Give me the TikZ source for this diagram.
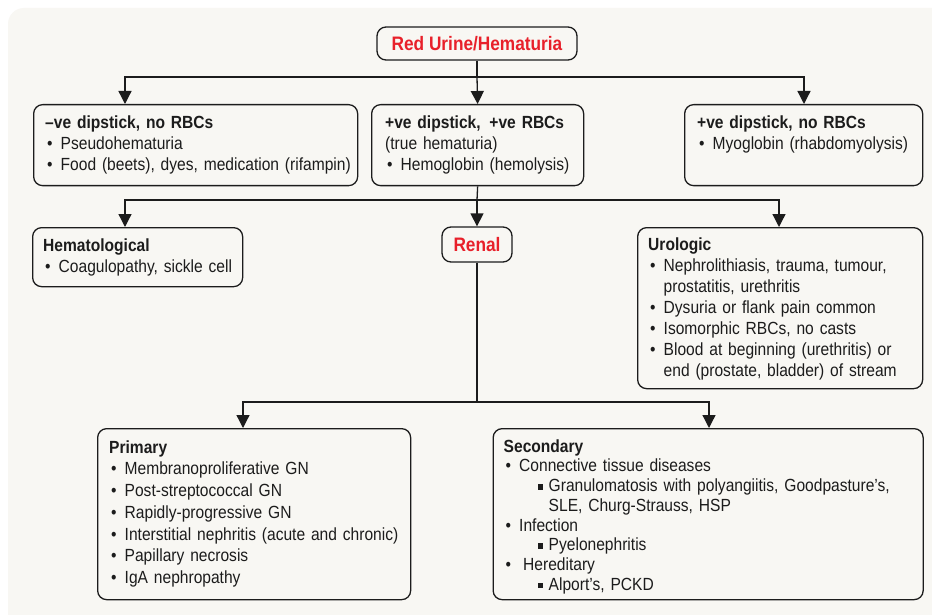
\documentclass[tikz,border=0pt]{standalone}
\usepackage{fontspec}
\setmainfont{Liberation Sans}[FakeStretch=0.885]
\usetikzlibrary{arrows.meta}

\definecolor{panel}{HTML}{F8F7F3}
\definecolor{alert}{HTML}{E8202A}
\definecolor{ink}{HTML}{1C1C1C}

% list helpers: bullet, continuation indent, square sub-bullet
\newcommand{\bul}{\makebox[15.5pt][l]{\hspace*{2pt}•}}
\newcommand{\cont}{\hspace*{15.5pt}}
\newcommand{\sqb}{\hspace*{34pt}\makebox[11pt][l]{\rule[2pt]{5.5pt}{5.5pt}}}
\newcommand{\subcont}{\hspace*{45pt}}
\newcommand{\topstrut}{\rule{0pt}{13pt}}

\begin{document}
\begin{tikzpicture}[x=1pt,y=-1pt,
  card/.style={draw=ink, line width=1.3pt, rounded corners=9pt, fill=panel,
    anchor=north west, inner sep=0pt},
  head/.style={draw=ink, line width=1.3pt, rounded corners=9pt, fill=panel,
    inner sep=0pt, text=alert, font=\bfseries\fontsize{19.5}{23}\selectfont},
  body/.style={anchor=north west, inner sep=0pt, text width=#1, align=left,
    text=ink, font=\fontsize{17.6}{21}\selectfont},
  link/.style={draw=ink, line width=1.3pt},
  arr/.style={link, -{Triangle[width=13pt,length=13pt]}}
]
\useasboundingbox (0,0) rectangle (932,615);
\fill[white] (0,0) rectangle (932,615);
\begin{scope}
  \clip (0,0) rectangle (932,615);
  \fill[panel, rounded corners=16pt] (8,8) rectangle (960,640);
\end{scope}

% ---- top level
\node[head, minimum width=200pt, minimum height=33pt] (title) at (477,43.5) {Red Urine/Hematuria};

\node[card, minimum width=324pt, minimum height=81pt] (b1) at (33,104) {};
\node[body=312pt] (b1t) at ([shift={(12,11)}]b1.north west)
  {\topstrut\textbf{–ve dipstick, no RBCs}\\
   \bul Pseudohematuria\\
   \bul Food (beets), dyes, medication (rifampin)};

\node[card, minimum width=212pt, minimum height=81pt] (b2) at (371,104) {};
\node[body=200pt] (b2t) at ([shift={(14,11)}]b2.north west)
  {\topstrut\textbf{+ve dipstick, \,+ve RBCs}\\
   (true hematuria)\\
   \bul Hemoglobin (hemolysis)};

\node[card, minimum width=238pt, minimum height=81pt] (b3) at (684,104) {};
\node[body=226pt] (b3t) at ([shift={(13,11)}]b3.north west)
  {\topstrut\textbf{+ve dipstick, no RBCs}\\
   \bul Myoglobin (rhabdomyolysis)};

% ---- second level
\node[card, minimum width=210pt, minimum height=59pt] (hem) at (32,227) {};
\node[body=200pt] (hemt) at ([shift={(11,11)}]hem.north west)
  {\topstrut\textbf{Hematological}\\
   \bul Coagulopathy, sickle cell};

\node[head, minimum width=70pt, minimum height=35pt] (renal) at (477,244.5) {Renal};

\node[card, minimum width=285pt, minimum height=161pt] (uro) at (637,227) {};
\node[body=275pt] (urot) at ([shift={(11,10.5)}]uro.north west)
  {\topstrut\textbf{Urologic}\\
   \bul Nephrolithiasis, trauma, tumour,\\
   \cont prostatitis, urethritis\\
   \bul Dysuria or flank pain common\\
   \bul Isomorphic RBCs, no casts\\
   \bul Blood at beginning (urethritis) or\\
   \cont end (prostate, bladder) of stream};

% ---- third level
\node[card, minimum width=313pt, minimum height=171pt] (prim) at (97,428) {};
\node[body=305pt, font=\fontsize{17.6}{21.7}\selectfont] (primt) at ([shift={(12,12)}]prim.north west)
  {\topstrut\textbf{Primary}\\
   \bul Membranoproliferative GN\\
   \bul Post-streptococcal GN\\
   \bul Rapidly-progressive GN\\
   \bul Interstitial nephritis (acute and chronic)\\
   \bul Papillary necrosis\\
   \bul IgA nephropathy};

\node[card, minimum width=430pt, minimum height=171pt] (sec) at (492.5,428) {};
\node[body=420pt, font=\fontsize{17.6}{19.7}\selectfont] (sect) at ([shift={(11,11)}]sec.north west)
  {\topstrut\textbf{Secondary}\\
   \bul Connective tissue diseases\\
   \sqb Granulomatosis with polyangiitis, Goodpasture’s,\\
   \subcont SLE, Churg-Strauss, HSP\\
   \bul Infection\\
   \sqb Pyelonephritis\\
   \bul\hspace*{4pt}Hereditary\\
   \sqb Alport’s, PCKD};

% ---- connectors
\coordinate (s1) at (477,77);
\coordinate (a1) at (125,77);
\coordinate (a3) at (804,77);
\draw[link] (title.south) -- (s1);
\draw[arr] (s1) -| (a1 |- b1.north);
\draw[arr] (s1) -| (a3 |- b3.north);
\draw[arr] (s1) -- (b2.north);

\coordinate (s2) at (477,200);
\coordinate (a4) at (125,200);
\coordinate (a6) at (779,200);
\draw[link] (b2.south) -- (s2);
\draw[arr] (s2) -| (a4 |- hem.north);
\draw[arr] (s2) -| (a6 |- uro.north);
\draw[arr] (s2) -- (renal.north);

\coordinate (s3) at (477,402);
\coordinate (a7) at (243,402);
\coordinate (a9) at (709,402);
\draw[link] (renal.south) -- (s3);
\draw[arr] (s3) -| (a7 |- prim.north);
\draw[arr] (s3) -| (a9 |- sec.north);
\end{tikzpicture}
\end{document}
